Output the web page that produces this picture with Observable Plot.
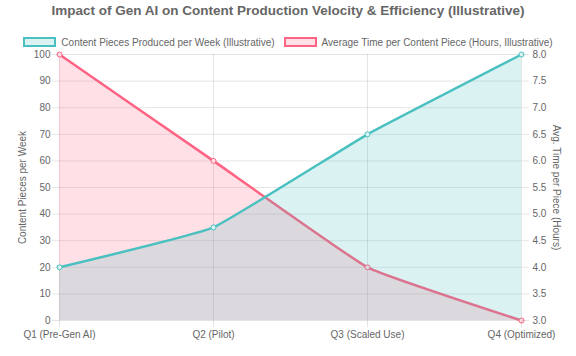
<!DOCTYPE html>
<html>
<head>
<meta charset="utf-8">
<script src="https://cdn.jsdelivr.net/npm/d3@7"></script>
<script src="https://cdn.jsdelivr.net/npm/@observablehq/plot@0.6"></script>
<style>
  html, body { margin: 0; padding: 0; background: #fff; }
  body { width: 576px; height: 356px; overflow: hidden; font-family: "Liberation Sans", Arial, Helvetica, sans-serif; color: #666; }
  #title { height: 22px; line-height: 22px; text-align: center; font-weight: bold; font-size: 13.5px; color: #666; }
  #legend { height: 26px; display: flex; justify-content: center; align-items: flex-end; gap: 9px; font-size: 10px; }
  .item { display: flex; align-items: center; height: 12px; }
  .box { width: 33px; height: 10px; box-sizing: border-box; border: 2.5px solid; margin-right: 5px; }
  #chart svg { display: block; }
</style>
</head>
<body>
<div id="title">Impact of Gen AI on Content Production Velocity &amp; Efficiency (Illustrative)</div>
<div id="legend"></div>
<div id="chart"></div>
<script>
const quarters = ["Q1 (Pre-Gen AI)", "Q2 (Pilot)", "Q3 (Scaled Use)", "Q4 (Optimized)"];
const piecesPerWeek = [20, 35, 70, 100];
const hoursPerPiece = [8.0, 6.0, 4.0, 3.0];
const leftTicks = [0, 10, 20, 30, 40, 50, 60, 70, 80, 90, 100];
const rightTicks = [3.0, 3.5, 4.0, 4.5, 5.0, 5.5, 6.0, 6.5, 7.0, 7.5, 8.0];
const seriesNames = ["Content Pieces Produced per Week (Illustrative)", "Average Time per Content Piece (Hours, Illustrative)"];
const leftLabel = "Content Pieces per Week";
const rightLabel = "Avg. Time per Piece (Hours)";
const teal = "rgb(75,192,192)";
const pink = "rgb(255,99,132)";

// legend
const legend = document.getElementById("legend");
[[seriesNames[0], teal, "rgba(75,192,192,0.2)"], [seriesNames[1], pink, "rgba(255,99,132,0.2)"]].forEach(([name, c, bg]) => {
  const it = document.createElement("div");
  it.className = "item";
  const b = document.createElement("div");
  b.className = "box";
  b.style.borderColor = c;
  b.style.background = bg;
  const t = document.createElement("span");
  t.textContent = name;
  it.appendChild(b); it.appendChild(t);
  legend.appendChild(it);
});

// right scale domain -> left scale domain
const rMin = rightTicks[0], rMax = rightTicks[rightTicks.length - 1];
const lMin = leftTicks[0], lMax = leftTicks[leftTicks.length - 1];
const toLeft = h => lMin + (h - rMin) / (rMax - rMin) * (lMax - lMin);

const pieces = quarters.map((q, i) => ({q, v: piecesPerWeek[i]}));
const hours = quarters.map((q, i) => ({q, v: toLeft(hoursPerPiece[i]), h: hoursPerPiece[i]}));
const rightPos = rightTicks.map(toLeft);

const curveOpts = {curve: "cardinal", tension: 0.7};

const chart = Plot.plot({
  width: 576,
  height: 308,
  marginTop: 6,
  marginBottom: 36,
  marginLeft: 59,
  marginRight: 55,
  x: {type: "point", domain: quarters, padding: 0},
  y: {domain: [lMin, lMax]},
  style: {fontFamily: "'Liberation Sans', Arial, Helvetica, sans-serif", fontSize: "10px", color: "#666", background: "transparent"},
  marks: [
    Plot.gridY(leftTicks, {stroke: "#000", strokeOpacity: 0.1, strokeWidth: 1}),
    Plot.gridX(quarters, {stroke: "#000", strokeOpacity: 0.1, strokeWidth: 1}),
    // pink series (drawn first, under teal)
    Plot.areaY(hours, {x: "q", y: "v", fill: pink, fillOpacity: 0.2, ...curveOpts}),
    Plot.line(hours, {x: "q", y: "v", stroke: pink, strokeWidth: 2.5, ...curveOpts}),
    Plot.dot(hours, {x: "q", y: "v", r: 2.5, fill: "#ffe0e6", stroke: pink, strokeWidth: 1}),
    // teal series
    Plot.areaY(pieces, {x: "q", y: "v", fill: teal, fillOpacity: 0.2, ...curveOpts}),
    Plot.line(pieces, {x: "q", y: "v", stroke: teal, strokeWidth: 2.5, ...curveOpts}),
    Plot.dot(pieces, {x: "q", y: "v", r: 2.5, fill: "#dbf2f2", stroke: teal, strokeWidth: 1}),
    // axes
    Plot.axisY(leftTicks, {anchor: "left", tickSize: 7, tickPadding: 2, stroke: "#000", strokeOpacity: 0.1, fill: "#666", label: null}),
    Plot.axisY(rightPos, {anchor: "right", tickSize: 7, tickPadding: 4, stroke: "#000", strokeOpacity: 0.1, fill: "#666", label: null,
      tickFormat: d => rightTicks[rightPos.indexOf(d)].toFixed(1)}),
    Plot.axisX(quarters, {anchor: "bottom", tickSize: 7, tickPadding: 3, stroke: "#000", strokeOpacity: 0.1, fill: "#666", label: null}),
    Plot.text([leftLabel], {frameAnchor: "left", textAnchor: "middle", dx: -37, rotate: -90, fill: "#666", fontSize: 10}),
    Plot.text([rightLabel], {frameAnchor: "right", textAnchor: "middle", dx: 35, rotate: 90, fill: "#666", fontSize: 10})
  ]
});
document.getElementById("chart").appendChild(chart);
</script>
</body>
</html>
